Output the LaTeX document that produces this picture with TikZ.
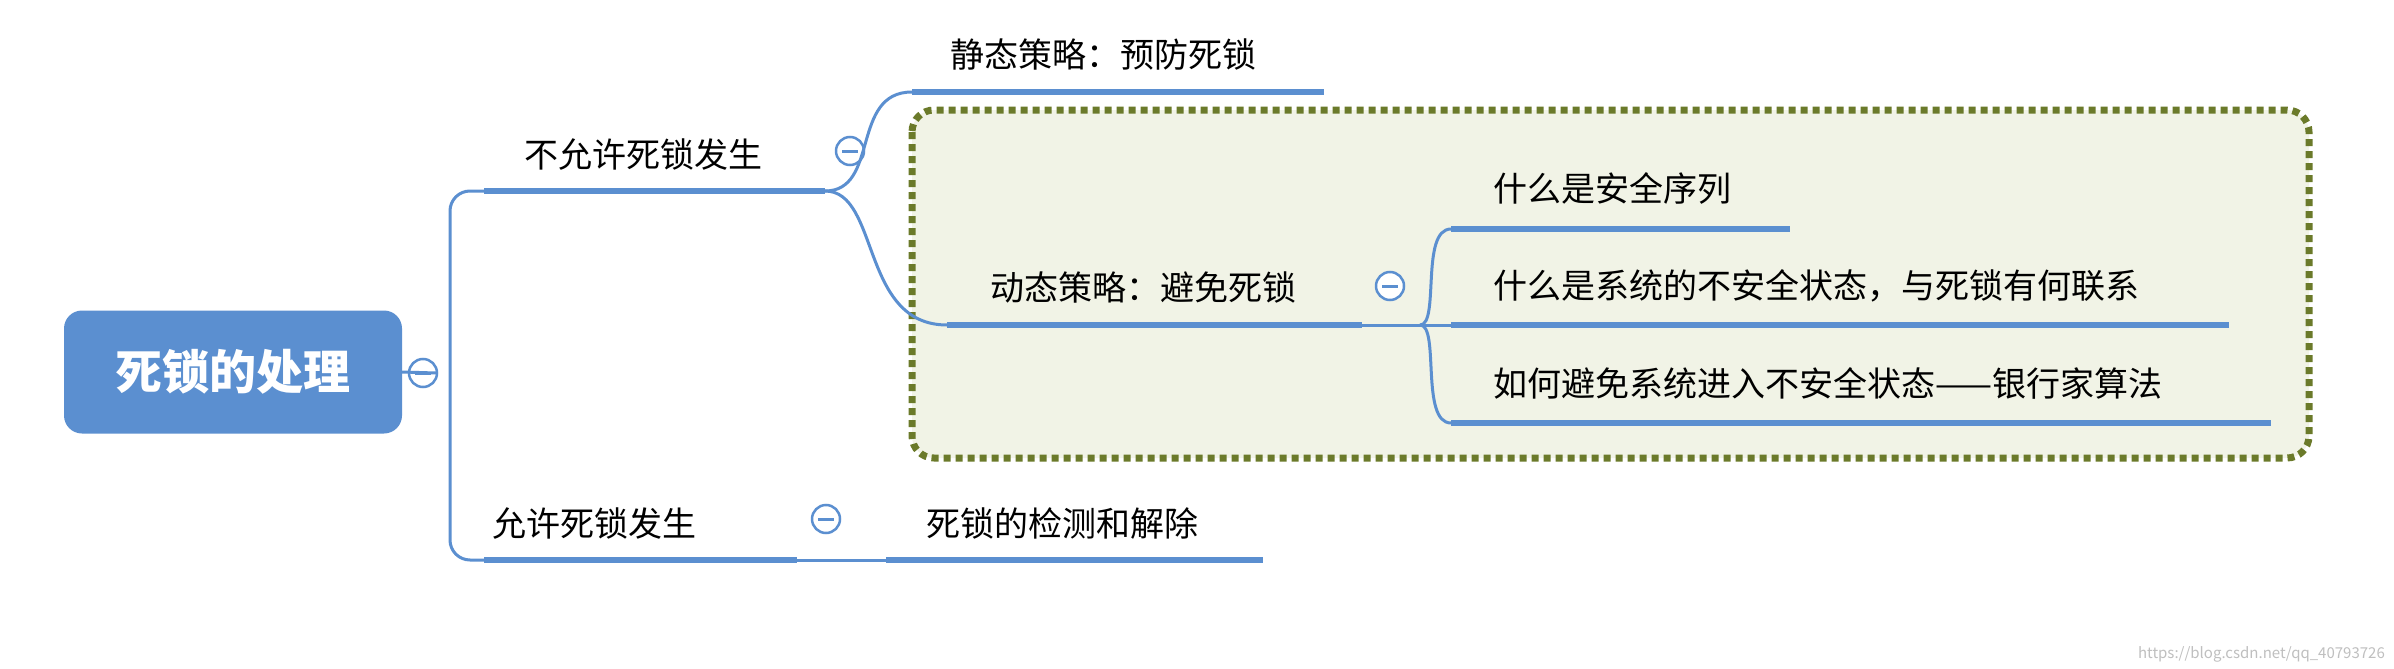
\documentclass[tikz,border=0pt]{standalone}
\usepackage{fontspec}
\setmainfont{Noto Sans CJK SC}
\begin{document}
\begin{tikzpicture}[x=1pt,y=-1pt,
  ul/.style={line width=6pt,draw=blu},
  br/.style={line width=3pt,draw=blu},
  lab/.style={font=\fontsize{34}{34}\selectfont,anchor=south west,inner sep=0pt},
  col/.style={circle,draw=blu,line width=2.5pt,minimum size=28pt,inner sep=0pt,fill=white}]
\definecolor{blu}{HTML}{5B8FD0}
\definecolor{oliv}{HTML}{6B7A2A}
\definecolor{lgr}{HTML}{F1F3E6}
\useasboundingbox (0,0) rectangle (2394,669);
\fill[white] (0,0) rectangle (2394,669);
% dotted box
\draw[draw=oliv,fill=lgr,line width=7pt,dash pattern=on 7pt off 5pt,rounded corners=22pt] (912,110) rectangle (2309,458);
% root
\node[fill=blu,rounded corners=18pt,minimum width=338pt,minimum height=123pt,text=white,font=\fontsize{47}{47}\selectfont\bfseries] (root) at (233,372) {死锁的处理};
\node[col] (c0) at (423,373) {};
\draw[line width=3pt,draw=blu] (415,373)--(431,373);
% coordinates
\coordinate (a1) at (484,191); \coordinate (a2) at (825,191);
\coordinate (b1) at (484,560); \coordinate (b2) at (797,560);
\coordinate (s1) at (912,92); \coordinate (s2) at (1324,92);
\coordinate (d1) at (947,325); \coordinate (d2) at (1362,325);
\coordinate (e1) at (886,560); \coordinate (e2) at (1263,560);
\coordinate (k1) at (1451,229); \coordinate (k1e) at (1790,229);
\coordinate (k2) at (1451,325); \coordinate (k2e) at (2229,325);
\coordinate (k3) at (1451,423); \coordinate (k3e) at (2271,423);
% root branches
\draw[br] (root.east)--(436,373);
\draw[br,rounded corners=20pt] (a1)--(450,191)--(450,560)--(b1);
\draw[ul] (a1)--(a2); \draw[ul] (b1)--(b2);
\node[lab] at (524,171) {不允许死锁发生};
\node[lab] at (492,540) {允许死锁发生};
\node[col] (c1) at (850,151) {}; \draw[line width=3pt,draw=blu] (842,151)--(858,151);
\node[col] (c2) at (826,519) {}; \draw[line width=3pt,draw=blu] (818,519)--(834,519);
% second level
\draw[br] (a2) .. controls (880,191) and (850,92) .. (s1);
\draw[br] (a2) .. controls (880,191) and (860,325) .. (d1);
\draw[ul] (s1)--(s2); \draw[ul] (d1)--(d2);
\draw[br] (b2)--(e1); \draw[ul] (e1)--(e2);
\node[lab] at (950,70) {静态策略：预防死锁};
\node[lab] at (990,303) {动态策略：避免死锁};
\node[lab] at (926,540) {死锁的检测和解除};
\node[col] (c3) at (1390,286) {}; \draw[line width=3pt,draw=blu] (1382,286)--(1398,286);
% third level
\draw[br] (d2)--(1420,325);
\draw[br] (1420,325) .. controls (1440,325) and (1420,229) .. (k1);
\draw[br] (1420,325)--(k2);
\draw[br] (1420,325) .. controls (1440,325) and (1420,423) .. (k3);
\draw[ul] (k1)--(k1e); \draw[ul] (k2)--(k2e); \draw[ul] (k3)--(k3e);
\node[lab] at (1493,205) {什么是安全序列};
\node[lab] at (1493,302) {什么是系统的不安全状态，与死锁有何联系};
\node[lab] at (1493,400) {如何避免系统进入不安全状态——银行家算法};
\node[anchor=south east,text=gray!50,font=\fontsize{15}{15}\selectfont,inner sep=0pt] (wm) at (2385,662) {https://blog.csdn.net/qq\_40793726};
\end{tikzpicture}
\end{document}
